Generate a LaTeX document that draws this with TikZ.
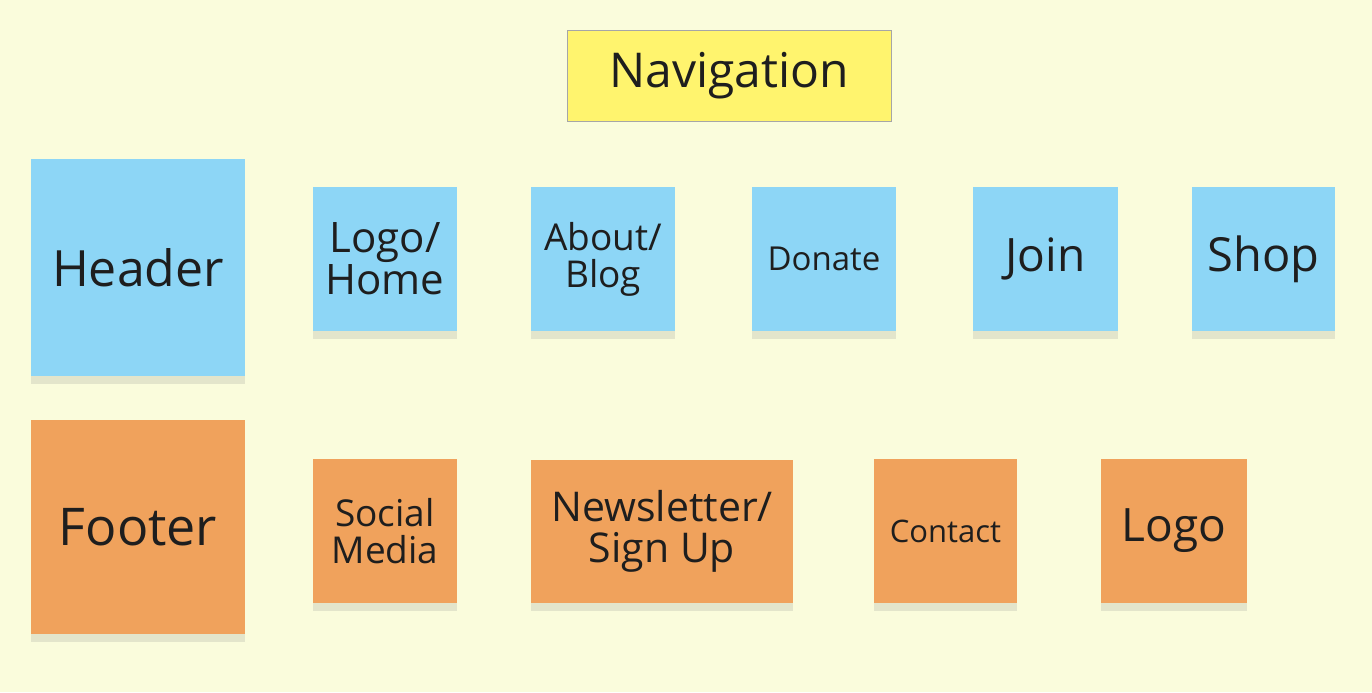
\documentclass[tikz,border=0pt]{standalone}
\usepackage{fontspec}
\setmainfont{Open Sans}
\usetikzlibrary{shadows}
\definecolor{board}{HTML}{FAFCDC}
\definecolor{navyellow}{HTML}{FFF46E}
\definecolor{noteblue}{HTML}{8DD6F6}
\definecolor{noteorange}{HTML}{F0A25C}
\definecolor{inktext}{HTML}{1E1E1E}
\tikzset{
    every picture/.style={x=0.5pt,y=-0.5pt},
    note/.style={inner sep=0pt,align=center,text=inktext,
        drop shadow={shadow xshift=0pt,shadow yshift=-4pt,opacity=0.18}},
    bluenote/.style={note,fill=noteblue},
    orangenote/.style={note,fill=noteorange},
    fs/.style={font=\fontsize{#1}{#1*1.25}\selectfont}
}

\begin{document}
\begin{tikzpicture}
    \fill[board] (0,0) rectangle (1372,692);
    \useasboundingbox (0,0) rectangle (1372,692);
    % title
    \node[fill=navyellow,draw=gray!70,thin,minimum width=162pt,minimum height=45.5pt,
          text=inktext,fs=24pt] (nav) at (729,75.5) {Navigation};
    % header row
    \node[bluenote,minimum width=107pt,minimum height=108.5pt,fs=25pt] (header) at (138,267.5) {Header};
    \node[bluenote,minimum width=72pt,minimum height=72pt,fs=21pt] (home) at (385,259) {Logo/\\Home};
    \node[bluenote,minimum width=72pt,minimum height=72pt,fs=18.5pt] (about) at (603,259) {About/\\Blog};
    \node[bluenote,minimum width=72pt,minimum height=72pt,fs=16.5pt] (donate) at (824,259) {Donate};
    \node[bluenote,minimum width=72.5pt,minimum height=72pt,fs=23pt] (join) at (1045.5,259) {Join};
    \node[bluenote,minimum width=71.5pt,minimum height=72pt,fs=23.5pt] (shop) at (1263.5,259) {Shop};
    % footer row
    \node[orangenote,minimum width=107pt,minimum height=107pt,fs=26pt] (footer) at (138,527) {Footer};
    \node[orangenote,minimum width=72pt,minimum height=72pt,fs=18.5pt] (social) at (385,531) {Social\\Media};
    \node[orangenote,minimum width=131pt,minimum height=71.5pt,fs=20.5pt] (news) at (662,531.5) {Newsletter/\\Sign Up};
    \node[orangenote,minimum width=71.5pt,minimum height=72pt,fs=15.5pt] (contact) at (945.5,531) {Contact};
    \node[orangenote,minimum width=73pt,minimum height=72pt,fs=23pt] (logo) at (1174,531) {Logo};
\end{tikzpicture}
\end{document}
